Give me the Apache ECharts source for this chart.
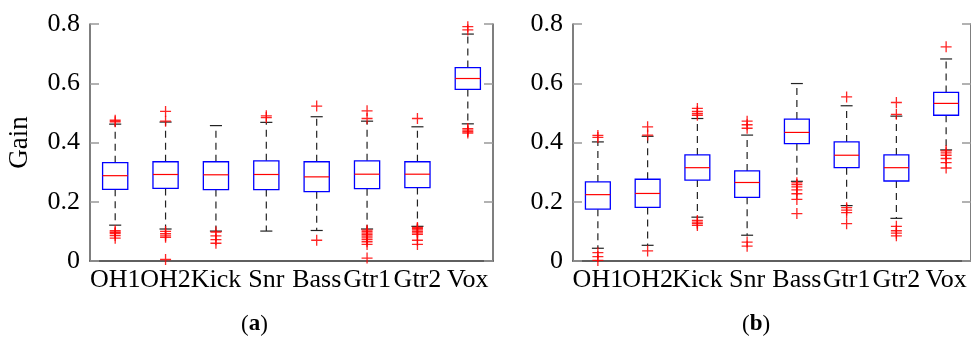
<!DOCTYPE html>
<html>
<head>
<meta charset="utf-8">
<script src="https://cdn.jsdelivr.net/npm/echarts@6/dist/echarts.min.js"></script>
<style>
  html, body { margin: 0; padding: 0; background: #fff; }
  #main { width: 971px; height: 337px; }
</style>
</head>
<body>
<div id="main"></div>
<script>
// categories / ticks
var categories = ['OH1', 'OH2', 'Kick', 'Snr', 'Bass', 'Gtr1', 'Gtr2', 'Vox'];
var yTicks = [0, 0.2, 0.4, 0.6, 0.8];

// (a) boxes: [low whisker, q1, median, q3, high whisker]
var boxA = [
  [0.121, 0.242, 0.288, 0.332, 0.462],
  [0.108, 0.245, 0.292, 0.335, 0.469],
  [0.101, 0.241, 0.291, 0.335, 0.457],
  [0.101, 0.241, 0.292, 0.338, 0.468],
  [0.103, 0.234, 0.284, 0.335, 0.487],
  [0.108, 0.244, 0.293, 0.338, 0.472],
  [0.117, 0.248, 0.293, 0.335, 0.453],
  [0.463, 0.579, 0.616, 0.653, 0.766]
];
// (a) outliers: [category index, value]
var outA = [
  [0, 0.475], [0, 0.470], [0, 0.102], [0, 0.097], [0, 0.093], [0, 0.086], [0, 0.077],
  [1, 0.505], [1, 0.472], [1, 0.100], [1, 0.092], [1, 0.085], [1, 0.080], [1, 0.005],
  [2, 0.098], [2, 0.085], [2, 0.072], [2, 0.060],
  [3, 0.490], [3, 0.484],
  [4, 0.523], [4, 0.070],
  [5, 0.507], [5, 0.481], [5, 0.104], [5, 0.099], [5, 0.094], [5, 0.089], [5, 0.084],
  [5, 0.078], [5, 0.072], [5, 0.065], [5, 0.056], [5, 0.010],
  [6, 0.481], [6, 0.113], [6, 0.109], [6, 0.105], [6, 0.100], [6, 0.095], [6, 0.090],
  [6, 0.070], [6, 0.056],
  [7, 0.791], [7, 0.780], [7, 0.447], [7, 0.442], [7, 0.437], [7, 0.432]
];

// (b) boxes
var boxB = [
  [0.043, 0.175, 0.224, 0.267, 0.402],
  [0.053, 0.181, 0.228, 0.276, 0.421],
  [0.148, 0.273, 0.315, 0.358, 0.481],
  [0.087, 0.215, 0.265, 0.304, 0.425],
  [0.269, 0.396, 0.434, 0.479, 0.599],
  [0.187, 0.315, 0.357, 0.402, 0.524],
  [0.144, 0.270, 0.315, 0.358, 0.489],
  [0.375, 0.492, 0.532, 0.569, 0.682]
];
// (b) outliers
var outB = [
  [0, 0.424], [0, 0.417], [0, 0.028], [0, 0.015], [0, 0.002],
  [1, 0.453], [1, 0.425], [1, 0.034],
  [2, 0.515], [2, 0.505], [2, 0.498], [2, 0.492], [2, 0.137], [2, 0.131], [2, 0.126], [2, 0.120],
  [3, 0.472], [3, 0.460], [3, 0.448], [3, 0.064], [3, 0.050],
  [4, 0.264], [4, 0.258], [4, 0.250], [4, 0.240], [4, 0.227], [4, 0.208], [4, 0.160],
  [5, 0.554], [5, 0.180], [5, 0.172], [5, 0.163], [5, 0.126],
  [6, 0.535], [6, 0.495], [6, 0.117], [6, 0.102], [6, 0.094], [6, 0.085],
  [7, 0.723], [7, 0.372], [7, 0.365], [7, 0.357], [7, 0.346], [7, 0.332], [7, 0.314]
];

var FONT = 'Liberation Serif';
var chart = echarts.init(document.getElementById('main'));

function renderBox(params, api) {
  var i = api.value(0);
  var lo = api.coord([i, api.value(1)]);
  var q1 = api.coord([i, api.value(2)]);
  var md = api.coord([i, api.value(3)]);
  var q3 = api.coord([i, api.value(4)]);
  var hi = api.coord([i, api.value(5)]);
  var band = api.size([1, 0])[0];
  var bw = band * 0.5, cw = band * 0.24;
  var x = md[0];
  var dash = { stroke: '#222', lineWidth: 1.2, lineDash: [7, 5] };
  var solid = { stroke: '#222', lineWidth: 1.2 };
  return {
    type: 'group',
    children: [
      { type: 'line', shape: { x1: x, y1: q3[1], x2: x, y2: hi[1] }, style: dash },
      { type: 'line', shape: { x1: x, y1: q1[1], x2: x, y2: lo[1] }, style: dash },
      { type: 'line', shape: { x1: x - cw / 2, y1: hi[1], x2: x + cw / 2, y2: hi[1] }, style: solid },
      { type: 'line', shape: { x1: x - cw / 2, y1: lo[1], x2: x + cw / 2, y2: lo[1] }, style: solid },
      { type: 'rect', shape: { x: x - bw / 2, y: q3[1], width: bw, height: q1[1] - q3[1] },
        style: { fill: '#fff', stroke: '#0000ff', lineWidth: 1.3 } },
      { type: 'line', shape: { x1: x - bw / 2, y1: md[1], x2: x + bw / 2, y2: md[1] },
        style: { stroke: '#ff0000', lineWidth: 1.2 } }
    ]
  };
}

var plus = 'path://M4.4,0h1.2v4.4h4.4v1.2h-4.4v4.4h-1.2v-4.4h-4.4v-1.2h4.4z';

function xAxes(grid) {
  var base = {
    gridIndex: grid, type: 'category', data: categories, boundaryGap: true,
    axisLine: { lineStyle: { color: '#555', width: 1.5 } },
    axisTick: { inside: true, alignWithLabel: true, length: 8, lineStyle: { color: '#999', width: 1.5 } },
    splitLine: { show: false }
  };
  return [
    Object.assign({}, base, { position: 'bottom',
      axisLabel: { interval: 0, color: '#000', fontFamily: FONT, fontSize: 26, margin: 6 } }),
    Object.assign({}, base, { position: 'top', axisLabel: { show: false } })
  ];
}
function yAxes(grid, name) {
  var base = {
    gridIndex: grid, type: 'value', min: 0, max: 0.8, interval: 0.2,
    axisLine: { show: true, lineStyle: { color: '#555', width: 1.5 } },
    axisTick: { show: true, inside: true, length: 9, lineStyle: { color: '#999', width: 1.5 } },
    splitLine: { show: false }
  };
  return [
    Object.assign({}, base, { position: 'left', name: name, nameLocation: 'middle', nameGap: 57,
      nameRotate: 90, nameTextStyle: { color: '#000', fontFamily: FONT, fontSize: 27 },
      axisLabel: { color: '#000', fontFamily: FONT, fontSize: 26, margin: 10 } }),
    Object.assign({}, base, { position: 'right', axisLabel: { show: false } })
  ];
}

function boxData(b) {
  return b.map(function (r, i) { return [i].concat(r); });
}

chart.setOption({
  animation: false,
  backgroundColor: '#fff',
  title: [
    { text: '({b|a})', left: 236, top: 308,
      textStyle: { fontFamily: FONT, fontSize: 23, fontWeight: 'normal', color: '#000',
        rich: { b: { fontFamily: FONT, fontSize: 23, fontWeight: 'bold', color: '#000' } } } },
    { text: '({b|b})', left: 737, top: 308,
      textStyle: { fontFamily: FONT, fontSize: 23, fontWeight: 'normal', color: '#000',
        rich: { b: { fontFamily: FONT, fontSize: 23, fontWeight: 'bold', color: '#000' } } } }
  ],
  grid: [
    { left: 90, top: 24, width: 403, height: 237 },
    { left: 573, top: 24, width: 403, height: 237 }
  ],
  xAxis: xAxes(0).concat(xAxes(1)),
  yAxis: yAxes(0, 'Gain').concat(yAxes(1, '')),
  series: [
    { type: 'custom', xAxisIndex: 0, yAxisIndex: 0, renderItem: renderBox,
      encode: { x: 0, y: [1, 2, 3, 4, 5] }, data: boxData(boxA) },
    { type: 'scatter', xAxisIndex: 0, yAxisIndex: 0, symbol: plus, symbolSize: 11,
      itemStyle: { color: '#ff0000', opacity: 0.85 }, data: outA, z: 3 },
    { type: 'custom', xAxisIndex: 2, yAxisIndex: 2, renderItem: renderBox,
      encode: { x: 0, y: [1, 2, 3, 4, 5] }, data: boxData(boxB) },
    { type: 'scatter', xAxisIndex: 2, yAxisIndex: 2, symbol: plus, symbolSize: 11,
      itemStyle: { color: '#ff0000', opacity: 0.85 }, data: outB, z: 3 }
  ]
});
</script>
</body>
</html>
